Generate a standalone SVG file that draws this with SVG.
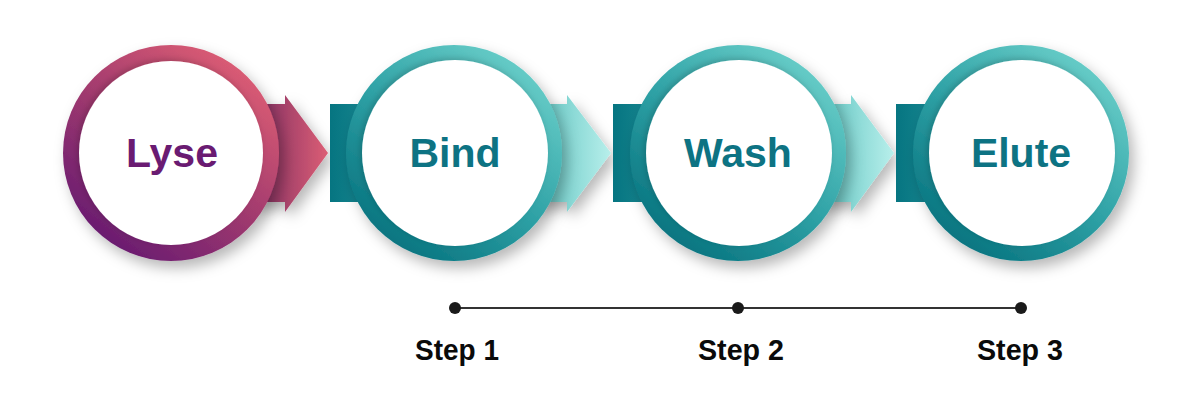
<svg xmlns="http://www.w3.org/2000/svg" width="1200" height="404" viewBox="0 0 1200 404">
<defs>
<linearGradient id="gPurple" x1="0.2" y1="0.95" x2="0.85" y2="0.1">
<stop offset="0" stop-color="#661a70"/>
<stop offset="0.5" stop-color="#a13a6e"/>
<stop offset="1" stop-color="#dc5d74"/>
</linearGradient>
<linearGradient id="gTeal" x1="0.2" y1="0.95" x2="0.85" y2="0.1">
<stop offset="0" stop-color="#06727e"/>
<stop offset="0.5" stop-color="#2fa2a6"/>
<stop offset="1" stop-color="#68cdc8"/>
</linearGradient>
<linearGradient id="gPinkArrow" x1="0" y1="0" x2="1" y2="0">
<stop offset="0" stop-color="#7a2b61"/>
<stop offset="1" stop-color="#dc5e75"/>
</linearGradient>
<linearGradient id="gCyanArrow" x1="0" y1="0" x2="1" y2="0">
<stop offset="0" stop-color="#5cc3c0"/>
<stop offset="1" stop-color="#b8efeb"/>
</linearGradient>
<linearGradient id="gRect" x1="0" y1="0" x2="1" y2="0">
<stop offset="0" stop-color="#067581"/>
<stop offset="1" stop-color="#1c8b95"/>
</linearGradient>
<filter id="shadow" x="-30%" y="-30%" width="160%" height="160%">
<feGaussianBlur in="SourceAlpha" stdDeviation="7"/>
<feOffset dx="5" dy="7" result="b"/>
<feFlood flood-color="#000" flood-opacity="0.28"/>
<feComposite in2="b" operator="in"/>
<feMerge><feMergeNode/><feMergeNode in="SourceGraphic"/></feMerge>
</filter>
<filter id="inner" x="-20%" y="-20%" width="140%" height="140%">
<feGaussianBlur in="SourceAlpha" stdDeviation="3"/>
<feOffset dx="-2" dy="-2" result="b"/>
<feFlood flood-color="#000" flood-opacity="0.18"/>
<feComposite in2="b" operator="in"/>
<feMerge><feMergeNode/><feMergeNode in="SourceGraphic"/></feMerge>
</filter>
</defs>
<style>
.label{font-family:"Liberation Sans",Arial,sans-serif;font-weight:bold;font-size:41px;text-anchor:middle}
.step{font-family:"Liberation Sans",Arial,sans-serif;font-weight:bold;font-size:30px;text-anchor:middle;fill:#0a0a0a}
.inner{fill:#fff}
.tl{fill:#0d7383}
</style>
<rect width="1200" height="404" fill="#fff"/>

<g id="connectors">
<path d="M250,104 H285 V95 L328,153 L285,212 V202 H250 Z" fill="url(#gPinkArrow)" filter="url(#shadow)"/>
<path d="M533,104 H567 V95 L611,153 L567,212 V202 H533 Z" fill="url(#gCyanArrow)" filter="url(#shadow)"/>
<path d="M817,104 H851 V95 L894,153 L851,212 V202 H817 Z" fill="url(#gCyanArrow)" filter="url(#shadow)"/>
<rect x="330" y="104" width="50" height="98" fill="url(#gRect)"/>
<rect x="613" y="104" width="50" height="98" fill="url(#gRect)"/>
<rect x="896" y="104" width="50" height="98" fill="url(#gRect)"/>
</g>

<g id="lyse">
<circle cx="171" cy="153" r="108" fill="url(#gPurple)" filter="url(#shadow)"/>
<circle cx="171" cy="153" r="92" class="inner" filter="url(#inner)"/>
<text x="172" y="167" class="label" fill="#6a1b72">Lyse</text>
</g>
<g id="bind">
<circle cx="454" cy="153" r="108" fill="url(#gTeal)" filter="url(#shadow)"/>
<circle cx="455" cy="153" r="93" class="inner" filter="url(#inner)"/>
<text x="455" y="167" class="label tl">Bind</text>
</g>
<g id="wash">
<circle cx="738" cy="153" r="108" fill="url(#gTeal)" filter="url(#shadow)"/>
<circle cx="739" cy="153" r="93" class="inner" filter="url(#inner)"/>
<text x="738" y="167" class="label tl">Wash</text>
</g>
<g id="elute">
<circle cx="1021" cy="153" r="108" fill="url(#gTeal)" filter="url(#shadow)"/>
<circle cx="1022" cy="153" r="93" class="inner" filter="url(#inner)"/>
<text x="1021" y="167" class="label tl">Elute</text>
</g>

<g id="timeline">
<line x1="455" y1="308" x2="1021" y2="308" stroke="#333" stroke-width="2"/>
<circle cx="455" cy="308" r="6" fill="#1a1a1a"/>
<circle cx="738" cy="308" r="6" fill="#1a1a1a"/>
<circle cx="1021" cy="308" r="6" fill="#1a1a1a"/>
<text x="457" y="360" class="step" textLength="84" lengthAdjust="spacingAndGlyphs">Step 1</text>
<text x="741" y="360" class="step" textLength="86" lengthAdjust="spacingAndGlyphs">Step 2</text>
<text x="1020" y="360" class="step" textLength="86" lengthAdjust="spacingAndGlyphs">Step 3</text>
</g>
</svg>
